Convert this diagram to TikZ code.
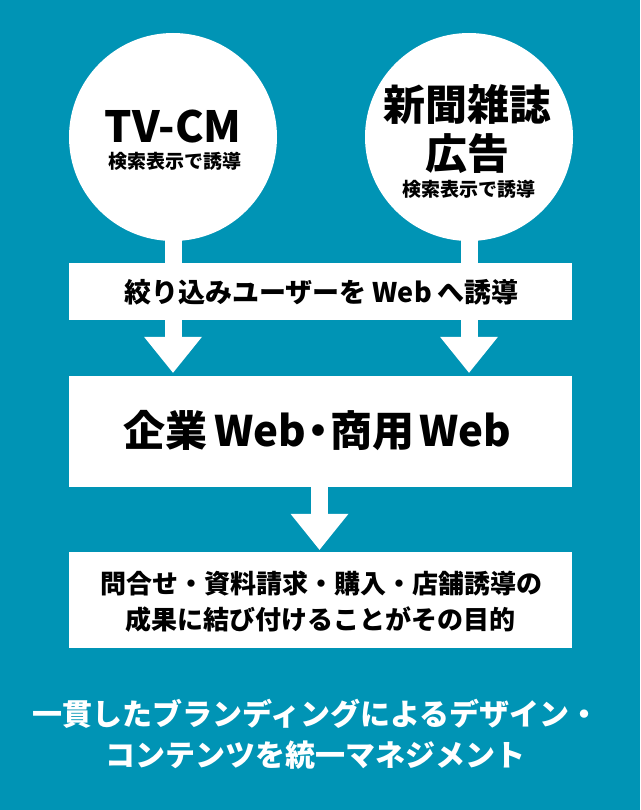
\documentclass[tikz,border=0pt]{standalone}
\usepackage{fontspec}
\setmainfont{Noto Sans CJK JP}
\usetikzlibrary{arrows.meta,backgrounds}
\definecolor{bg}{RGB}{0,148,181}
\newcommand\myfs[1]{\fontsize{#1}{#1}\selectfont\bfseries}
\tikzset{
  circ/.style={circle, fill=white, minimum size=208pt, inner sep=0pt},
  panel/.style={rectangle, fill=white, minimum width=503pt, inner sep=0pt},
  txt/.style={inner sep=0pt, text=black},
  flow/.style={draw=white, line width=17pt,
    -{Triangle[length=36pt, width=58pt, line width=0pt]}},
}
\begin{document}
\begin{tikzpicture}[x=1pt,y=-1pt]
\useasboundingbox (0,0) rectangle (640,810);
% nodes
\node[circ] (tv) at (173,137) {};
\node[txt, font=\myfs{43}] (tvt) at (173,126.5) {TV-CM};
\node[txt, font=\myfs{19}] (tvs) at (175,161) {検索表示で誘導};

\node[circ] (np) at (469,137) {};
\node[txt, font=\myfs{42}] (npa) at (467.5,104) {新聞雑誌};
\node[txt, font=\myfs{42}] (npb) at (467.5,154) {広告};
\node[txt, font=\myfs{19}] (nps) at (468.5,189) {検索表示で誘導};

\node[panel, minimum height=57pt] (band) at (320.5,291.5) {};
\node[txt, font=\myfs{27}] (bandt) at (321.5,292.5) {絞り込みユーザーを Web へ誘導};

\node[panel, minimum height=111pt] (main) at (320.5,431.5) {};
\node[txt, font=\myfs{42}] (maint) at (317.5,431) {企業\kern7pt Web\kern-9pt・\kern-9pt 商用\kern5pt Web};

\node[panel, minimum height=96pt] (goal) at (320.5,600) {};
\node[txt, font=\myfs{26}] (goala) at (321,583.5) {問合せ・資料請求・購入・店舗誘導の};
\node[txt, font=\myfs{26}] (goalb) at (320,620) {成果に結び付けることがその目的};

\node[txt, text=white, font=\myfs{30}] (foota) at (316,713.5) {一貫したブランディングによるデザイン・};
\node[txt, text=white, font=\myfs{30}] (footb) at (315.5,755) {コンテンツを統一マネジメント};

% background and connectors
\begin{scope}[on background layer]
  \fill[bg] (0,0) rectangle (640,810);
  \draw[flow, shorten >=3pt] (tv.center) -- (tv.center |- main.north);
  \draw[flow, shorten >=3pt] (np.center) -- (np.center |- main.north);
  \draw[flow, shorten >=2pt] ([xshift=-1pt]main.south) -- ([xshift=-1pt]goal.north);
\end{scope}
\end{tikzpicture}
\end{document}
